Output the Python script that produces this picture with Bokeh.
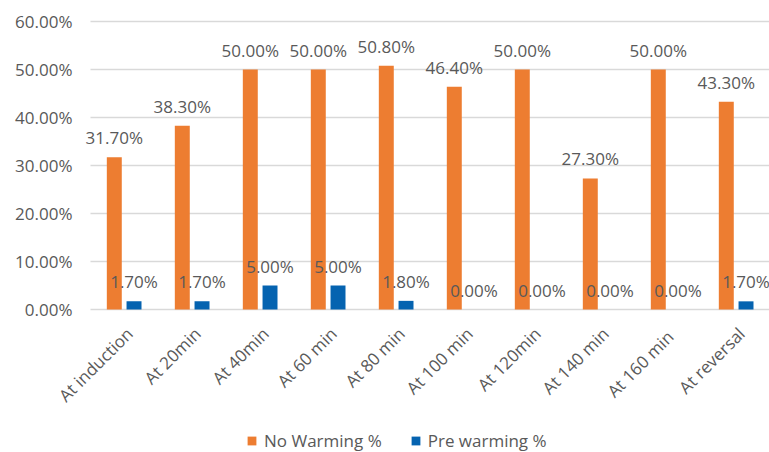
import math
from bokeh.plotting import figure
from bokeh.models import ColumnDataSource, Range1d, LabelSet, Legend, LegendItem
from bokeh.core.properties import value
from bokeh.transform import dodge
from bokeh.embed import file_html
from bokeh.resources import INLINE

categories = ["At induction", "At 20min", "At 40min", "At 60 min", "At 80 min",
              "At 100 min", "At 120min", "At 140 min", "At  160 min", "At reversal"]
no_warming = [31.7, 38.3, 50.0, 50.0, 50.8, 46.4, 50.0, 27.3, 50.0, 43.3]
pre_warming = [1.7, 1.7, 5.0, 5.0, 1.8, 0.0, 0.0, 0.0, 0.0, 1.7]
y_ticks = [0, 10, 20, 30, 40, 50, 60]
y_tick_labels = ["0.00%", "10.00%", "20.00%", "30.00%", "40.00%", "50.00%", "60.00%"]

ORANGE = "#ED7D31"
BLUE = "#0563B0"
FONT = value("Open Sans")
FS = value("17px")
GRID = "#D9D9D9"
TXT = "#595959"

W, H = 769, 452
CAT_PX = 68.0          # pixels per category
FIRST_CENTER_PX = 124  # pixel x of first category centre
ZERO_PX = 309          # pixel y of value 0 (from top)
PX_PER_UNIT = 4.8      # pixels per percentage point

n = len(categories)
idx = list(range(n))
src = ColumnDataSource(dict(
    x=idx,
    cat=categories,
    zero=[0] * n,
    nw=no_warming,
    pw=pre_warming,
    nw_lab=["%.2f%%" % v for v in no_warming],
    pw_lab=["%.2f%%" % v for v in pre_warming],
))
tick_src = ColumnDataSource(dict(
    x=[-0.5] * len(y_ticks), y=y_ticks, t=y_tick_labels,
))

x_start = -FIRST_CENTER_PX / CAT_PX
x_end = (W - FIRST_CENTER_PX) / CAT_PX
y_start = -(H - ZERO_PX) / PX_PER_UNIT
y_end = ZERO_PX / PX_PER_UNIT

p = figure(width=W, height=H, x_range=Range1d(x_start, x_end),
           y_range=Range1d(y_start, y_end), output_backend="svg", toolbar_location=None,
           min_border=0, x_axis_location=None, y_axis_location=None)
p.outline_line_color = None
p.background_fill_color = "white"
p.border_fill_color = "white"
p.xgrid.grid_line_color = None
p.ygrid.grid_line_color = None

# horizontal gridlines (incl. category axis at 0) spanning the category area
p.segment(x0=[-0.5] * len(y_ticks), x1=[n - 0.5] * len(y_ticks), y0=y_ticks, y1=y_ticks,
          line_color=GRID, line_width=1.5)

r1 = p.vbar(x=dodge("x", -0.15), top="nw", width=0.22, source=src,
            fill_color=ORANGE, line_color=None)
r2 = p.vbar(x=dodge("x", 0.14), top="pw", width=0.22, source=src,
            fill_color=BLUE, line_color=None)

for col, lab, off in (("nw", "nw_lab", -0.15), ("pw", "pw_lab", 0.14)):
    ls = LabelSet(x=dodge("x", off), y=col, text=lab, source=src,
                  text_align="center", text_baseline="bottom", y_offset=8,
                  text_font=FONT, text_font_size=FS, text_color=TXT)
    p.add_layout(ls)

# y tick labels
p.add_layout(LabelSet(x="x", y="y", text="t", source=tick_src, x_offset=-18,
                      text_align="right", text_baseline="middle",
                      text_font=FONT, text_font_size=FS, text_color=TXT))

# category labels, rotated 45 degrees under the axis
p.add_layout(LabelSet(x="x", y="zero", text="cat", source=src, angle=math.pi / 4,
                      text_align="right", text_baseline="middle", x_offset=5, y_offset=-21,
                      text_font=FONT, text_font_size=FS, text_color=TXT))

legend = Legend(items=[LegendItem(label="No Warming %", renderers=[r1]),
                       LegendItem(label="Pre warming %", renderers=[r2])],
                orientation="horizontal", location=(246, 0),
                glyph_width=11, glyph_height=11, label_text_font="Open Sans",
                label_text_font_size="17px", label_text_color=TXT,
                border_line_color=None, background_fill_alpha=0, spacing=28,
                label_standoff=7, padding=2, margin=0)
p.add_layout(legend, "center")

open("out.html", "w").write(file_html(p, INLINE))
